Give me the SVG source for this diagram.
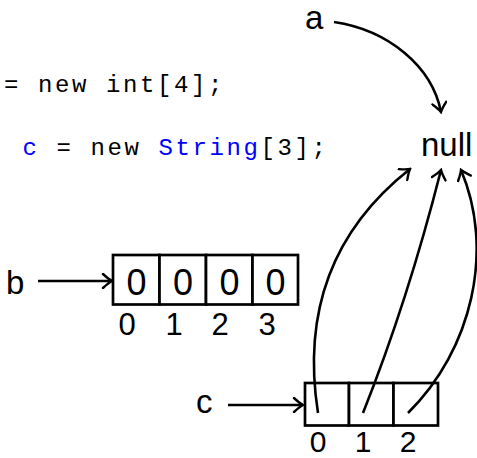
<svg xmlns="http://www.w3.org/2000/svg" width="477" height="458" viewBox="0 0 477 458">
<style>
.code{font-family:"Liberation Mono","Courier New",monospace;font-size:24px;letter-spacing:2.6px;fill:#000}
.kw{fill:#0000ff}
.lbl{font-family:"Liberation Sans",Arial,sans-serif;font-size:33px;fill:#000}
.dig{font-family:"Liberation Sans",Arial,sans-serif;font-size:36px;fill:#000;text-anchor:middle}
.idx{font-family:"Liberation Sans",Arial,sans-serif;font-size:31px;fill:#000;text-anchor:middle}
.cidx{font-family:"Liberation Sans",Arial,sans-serif;font-size:30px;fill:#000;text-anchor:middle}
.cell{fill:#fff;stroke:#000;stroke-width:2.7}
.edge{fill:none;stroke:#000;stroke-width:2.6;marker-end:url(#arr)}
</style>
<defs>
<marker id="arr" viewBox="-12 -8 14 16" markerWidth="14" markerHeight="16" refX="0" refY="0" orient="auto" markerUnits="userSpaceOnUse">
<path d="M-9,-7 Q-3,-1.5 0,0 Q-3,1.5 -9,7" fill="none" stroke="#000" stroke-width="2.4" stroke-linecap="round"/>
</marker>
</defs>
<g id="code">
<text class="code" x="4" y="92">= new int[4];</text>
<text class="code" x="22.5" y="155"><tspan class="kw">c</tspan> = new <tspan class="kw">String</tspan>[3];</text>
</g>
<g id="a"><text class="lbl" x="305" y="29" font-size="32">a</text></g>
<g id="null"><text class="lbl" x="421" y="156">null</text></g>
<g id="b-label"><text class="lbl" x="6" y="294">b</text></g>
<g id="c-label"><text class="lbl" x="196" y="413">c</text></g>
<g id="b-array">
<rect class="cell" x="113" y="255" width="46.5" height="49.5"/>
<rect class="cell" x="159.5" y="255" width="46.5" height="49.5"/>
<rect class="cell" x="206" y="255" width="46.5" height="49.5"/>
<rect class="cell" x="252.5" y="255" width="45.5" height="49.5"/>
<text class="dig" x="136.5" y="295">0</text>
<text class="dig" x="183" y="295">0</text>
<text class="dig" x="229.5" y="295">0</text>
<text class="dig" x="275.5" y="295">0</text>
<text class="idx" x="127" y="335">0</text>
<text class="idx" x="174" y="335">1</text>
<text class="idx" x="220" y="335">2</text>
<text class="idx" x="267" y="335">3</text>
</g>
<g id="c-array">
<rect class="cell" x="305" y="383" width="44" height="42.5"/>
<rect class="cell" x="349" y="383" width="44.5" height="42.5"/>
<rect class="cell" x="393.5" y="383" width="44.5" height="42.5"/>
<text class="cidx" x="318" y="452">0</text>
<text class="cidx" x="363" y="452">1</text>
<text class="cidx" x="408" y="452">2</text>
</g>
<g id="connectors">
<path class="edge" d="M334,22 C388,30 432,66 441,112"/>
<line class="edge" x1="38" y1="281" x2="112" y2="281"/>
<line class="edge" x1="228" y1="405" x2="303" y2="405"/>
<path class="edge" d="M318,413 C305,330 320,240 410,169"/>
<path class="edge" d="M363,413 Q408,300 441,170"/>
<path class="edge" d="M408,413 C472,350 495,250 461,170"/>
</g>
</svg>
